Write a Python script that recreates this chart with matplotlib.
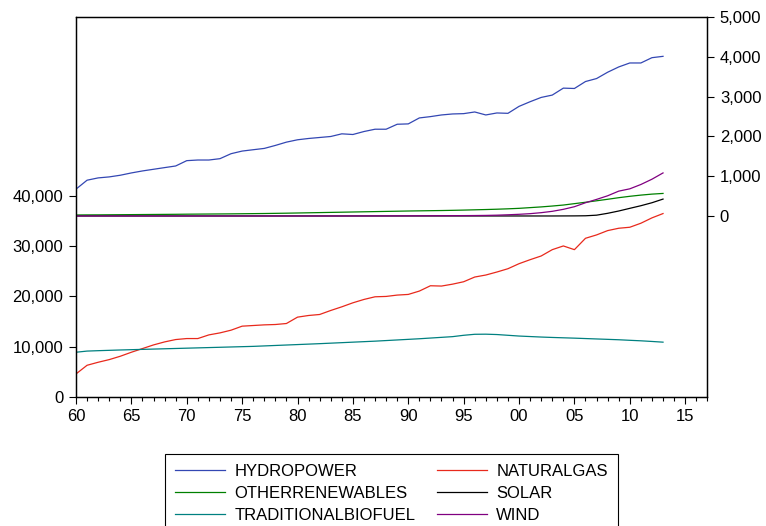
import matplotlib
matplotlib.use("Agg")
import matplotlib.pyplot as plt
from matplotlib.ticker import FuncFormatter, MultipleLocator

plt.rcParams['font.family'] = ['Liberation Sans', 'DejaVu Sans']
plt.rcParams['font.size'] = 12

years = list(range(1960, 2014))

hydropower = [675, 900, 958, 983, 1025, 1083, 1133, 1175, 1217, 1258,
              1392, 1408, 1408, 1442, 1567, 1633, 1667, 1700, 1775, 1858,
              1917, 1950, 1975, 2000, 2067, 2050, 2125, 2183, 2183, 2308,
              2317, 2467, 2500, 2542, 2567, 2575, 2617, 2542, 2592, 2583,
              2758, 2875, 2983, 3042, 3217, 3208, 3383, 3458, 3617, 3750,
              3850, 3850, 3983, 4017]

naturalgas = [4540, 6270, 6870, 7400, 8070, 8870, 9600, 10330, 10930, 11400,
              11600, 11600, 12330, 12730, 13270, 14070, 14200, 14330, 14400, 14600,
              15870, 16200, 16400, 17200, 17930, 18730, 19400, 19930, 20000, 20270,
              20400, 21070, 22130, 22070, 22450, 22930, 23870, 24270, 24870, 25530,
              26530, 27330, 28070, 29330, 30070, 29330, 31600, 32270, 33130, 33600,
              33800, 34600, 35670, 36530]

otherrenewables = [25, 27, 28, 30, 32, 34, 36, 38, 40, 42,
                   45, 47, 49, 51, 53, 56, 59, 62, 66, 70,
                   75, 80, 85, 90, 95, 100, 105, 110, 115, 120,
                   125, 129, 133, 137, 142, 148, 155, 162, 170, 180,
                   192, 210, 228, 250, 275, 310, 345, 382, 420, 460,
                   495, 525, 550, 567]

solar = [0, 0, 0, 0, 0, 0, 0, 0, 0, 0,
         0, 0, 0, 0, 0, 0, 0, 0, 0, 0,
         0, 0, 0, 0, 0, 0, 0, 0, 0, 0,
         0, 0, 0, 0, 0, 0, 0, 0, 0, 0,
         0, 0, 0, 0, 1, 2, 5, 20, 67, 125,
         192, 258, 333, 425]

traditionalbiofuel = [8870, 9100, 9180, 9250, 9320, 9380, 9440, 9500, 9560, 9620,
                      9680, 9740, 9800, 9860, 9920, 9980, 10040, 10130, 10220, 10310,
                      10400, 10490, 10580, 10680, 10780, 10880, 10980, 11080, 11200, 11320,
                      11440, 11560, 11700, 11840, 11980, 12250, 12450, 12470, 12400, 12250,
                      12100, 12000, 11900, 11820, 11750, 11680, 11600, 11520, 11440, 11360,
                      11250, 11150, 11020, 10880]

wind = [0, 0, 0, 0, 0, 0, 0, 0, 0, 0,
        0, 0, 0, 0, 0, 0, 0, 0, 0, 0,
        0, 0, 0, 0, 0, 1, 1, 2, 2, 3,
        4, 5, 6, 7, 8, 9, 11, 14, 20, 30,
        42, 58, 83, 117, 167, 233, 333, 417, 508, 625,
        683, 792, 925, 1083]

c_hydro = '#3347b3'
c_gas = '#e8291c'
c_other = '#008000'
c_solar = 'black'
c_bio = '#008080'
c_wind = '#800080'

fig = plt.figure(figsize=(7.66, 5.26), dpi=100)
ax = fig.add_axes([0.0992, 0.2458, 0.8242, 0.7225])
ax2 = ax.twinx()

# natural gas and traditional biofuel on the left scale, the rest on the right
ax.plot(years, naturalgas, color=c_gas, lw=0.9)
ax.plot(years, traditionalbiofuel, color=c_bio, lw=0.9)
ax2.plot(years, hydropower, color=c_hydro, lw=0.9)
ax2.plot(years, otherrenewables, color=c_other, lw=0.9)
ax2.plot(years, solar, color=c_solar, lw=0.9)
ax2.plot(years, wind, color=c_wind, lw=0.9)

ax.set_xlim(1960, 2017)
ax.set_ylim(0, 75800)
ax2.set_ylim(-4548, 5015)

ax.set_yticks([0, 10000, 20000, 30000, 40000])
ax2.set_yticks([0, 1000, 2000, 3000, 4000, 5000])
fmt = FuncFormatter(lambda v, p: f"{v:,.0f}")
ax.yaxis.set_major_formatter(fmt)
ax2.yaxis.set_major_formatter(fmt)

ax.xaxis.set_major_locator(MultipleLocator(5))
ax.xaxis.set_minor_locator(MultipleLocator(1))
ax.xaxis.set_major_formatter(FuncFormatter(lambda v, p: f"{int(v) % 100:02d}"))

ax.tick_params(axis='x', which='major', direction='out', length=5, width=0.8, pad=4)
ax.tick_params(axis='x', which='minor', direction='out', length=3, width=0.8)
ax.tick_params(axis='y', direction='out', length=5, width=0.8, pad=4)
ax2.tick_params(axis='y', direction='out', length=5, width=0.8, pad=4)

for a in (ax, ax2):
    for s in a.spines.values():
        s.set_linewidth(0.9)

# legend entries in two columns, matplotlib fills them column by column
handles = [plt.Line2D([], [], color=c, lw=0.9)
           for c in (c_hydro, c_other, c_bio, c_gas, c_solar, c_wind)]
labels = ['HYDROPOWER', 'OTHERRENEWABLES', 'TRADITIONALBIOFUEL',
          'NATURALGAS', 'SOLAR', 'WIND']
leg = fig.legend(handles, labels, ncol=2, loc='upper center',
                 bbox_to_anchor=(0.511, 0.137), fancybox=False,
                 edgecolor='black', framealpha=1, handlelength=3,
                 handletextpad=0.55, columnspacing=1.3, labelspacing=0.42,
                 borderpad=0.6, borderaxespad=0)
leg.get_frame().set_linewidth(0.8)

plt.savefig("out.png", dpi=100)
